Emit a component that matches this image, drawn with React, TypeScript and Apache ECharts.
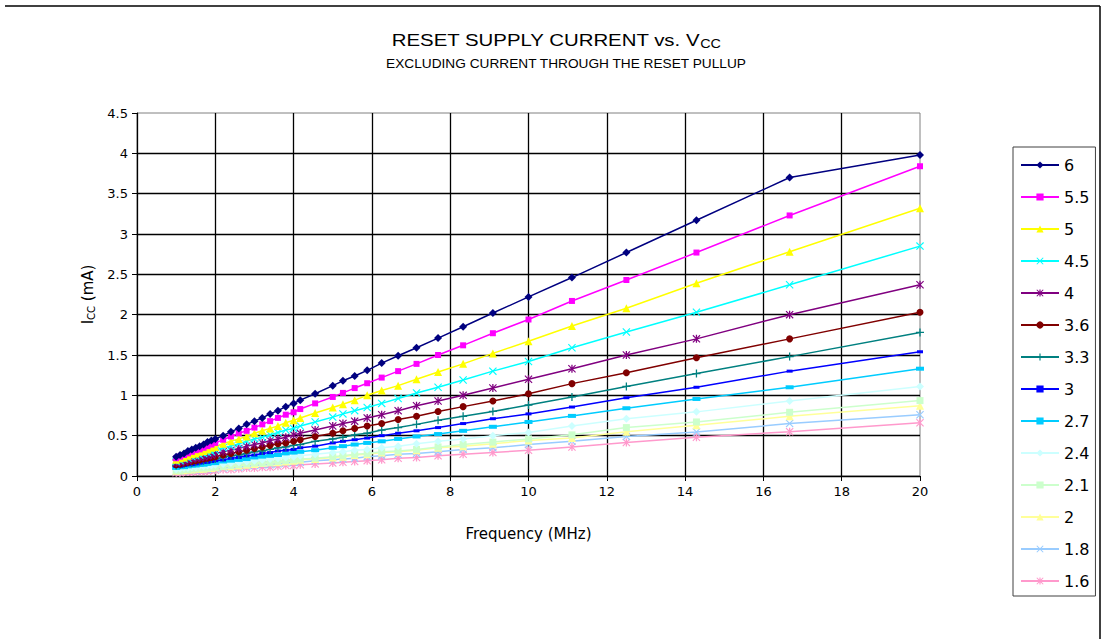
import React, { useEffect, useRef } from "react";
import * as echarts from "echarts";

const FREQ = [1.0, 1.1, 1.2, 1.3, 1.4, 1.5, 1.6, 1.7, 1.8, 1.9, 2.0, 2.2, 2.4, 2.6, 2.8, 3.0, 3.2, 3.4, 3.6, 3.8, 4.0, 4.17, 4.55, 5.0, 5.26, 5.56, 5.88, 6.25, 6.67, 7.14, 7.69, 8.33, 9.09, 10, 11.11, 12.5, 14.29, 16.67, 20];

const V6 = [0.24, 0.26, 0.28, 0.31, 0.33, 0.35, 0.37, 0.39, 0.42, 0.44, 0.46, 0.50, 0.55, 0.59, 0.64, 0.68, 0.72, 0.77, 0.81, 0.86, 0.90, 0.94, 1.02, 1.12, 1.18, 1.24, 1.31, 1.40, 1.49, 1.59, 1.71, 1.85, 2.02, 2.22, 2.46, 2.77, 3.17, 3.70, 3.98];
const V55 = [0.22, 0.24, 0.26, 0.28, 0.30, 0.32, 0.33, 0.35, 0.37, 0.39, 0.41, 0.45, 0.49, 0.53, 0.56, 0.60, 0.64, 0.68, 0.72, 0.76, 0.79, 0.83, 0.90, 0.98, 1.03, 1.09, 1.15, 1.22, 1.30, 1.39, 1.50, 1.62, 1.77, 1.94, 2.17, 2.43, 2.77, 3.23, 3.84];
const V5 = [0.20, 0.22, 0.23, 0.25, 0.27, 0.28, 0.30, 0.31, 0.33, 0.35, 0.36, 0.40, 0.43, 0.46, 0.49, 0.53, 0.56, 0.59, 0.62, 0.66, 0.69, 0.72, 0.78, 0.85, 0.89, 0.94, 1.00, 1.06, 1.12, 1.20, 1.29, 1.39, 1.52, 1.67, 1.86, 2.08, 2.39, 2.78, 3.32];
const V45 = [0.18, 0.19, 0.21, 0.22, 0.24, 0.25, 0.26, 0.28, 0.29, 0.30, 0.32, 0.35, 0.37, 0.40, 0.43, 0.46, 0.48, 0.51, 0.54, 0.57, 0.59, 0.62, 0.67, 0.73, 0.77, 0.81, 0.85, 0.90, 0.96, 1.03, 1.10, 1.19, 1.30, 1.42, 1.59, 1.785, 2.03, 2.37, 2.85];
const V4 = [0.16, 0.17, 0.18, 0.19, 0.21, 0.22, 0.23, 0.24, 0.25, 0.26, 0.28, 0.30, 0.32, 0.34, 0.37, 0.39, 0.41, 0.44, 0.46, 0.48, 0.51, 0.53, 0.57, 0.62, 0.65, 0.68, 0.72, 0.76, 0.81, 0.87, 0.93, 1.00, 1.09, 1.20, 1.33, 1.50, 1.70, 2.00, 2.37];
const V36 = [0.14, 0.15, 0.16, 0.17, 0.18, 0.19, 0.20, 0.21, 0.22, 0.23, 0.24, 0.26, 0.28, 0.30, 0.32, 0.34, 0.36, 0.38, 0.40, 0.41, 0.43, 0.45, 0.49, 0.53, 0.56, 0.59, 0.62, 0.65, 0.70, 0.74, 0.80, 0.86, 0.93, 1.02, 1.145, 1.28, 1.465, 1.70, 2.03];
const V33 = [0.13, 0.14, 0.15, 0.16, 0.16, 0.17, 0.18, 0.19, 0.20, 0.21, 0.21, 0.23, 0.25, 0.26, 0.28, 0.30, 0.31, 0.33, 0.35, 0.36, 0.38, 0.39, 0.43, 0.46, 0.48, 0.51, 0.53, 0.57, 0.60, 0.64, 0.69, 0.74, 0.80, 0.88, 0.98, 1.11, 1.27, 1.48, 1.78];
const V3 = [0.12, 0.12, 0.13, 0.14, 0.14, 0.15, 0.16, 0.17, 0.17, 0.18, 0.19, 0.20, 0.22, 0.23, 0.25, 0.26, 0.28, 0.29, 0.31, 0.32, 0.33, 0.35, 0.37, 0.41, 0.43, 0.45, 0.47, 0.50, 0.53, 0.56, 0.60, 0.65, 0.71, 0.77, 0.855, 0.97, 1.10, 1.30, 1.54];
const V27 = [0.10, 0.11, 0.11, 0.12, 0.13, 0.13, 0.14, 0.14, 0.15, 0.16, 0.16, 0.18, 0.19, 0.20, 0.21, 0.23, 0.24, 0.25, 0.26, 0.28, 0.29, 0.30, 0.32, 0.35, 0.37, 0.39, 0.41, 0.43, 0.46, 0.49, 0.52, 0.56, 0.61, 0.67, 0.745, 0.84, 0.955, 1.10, 1.33];
const V24 = [0.085, 0.09, 0.10, 0.10, 0.11, 0.11, 0.12, 0.12, 0.13, 0.13, 0.14, 0.15, 0.16, 0.17, 0.18, 0.19, 0.20, 0.21, 0.22, 0.23, 0.24, 0.25, 0.27, 0.29, 0.30, 0.32, 0.33, 0.35, 0.37, 0.40, 0.43, 0.46, 0.50, 0.54, 0.62, 0.71, 0.795, 0.93, 1.11];
const V21 = [0.07, 0.07, 0.08, 0.08, 0.09, 0.09, 0.10, 0.10, 0.10, 0.11, 0.11, 0.12, 0.13, 0.14, 0.15, 0.16, 0.16, 0.17, 0.18, 0.19, 0.20, 0.21, 0.22, 0.24, 0.25, 0.27, 0.28, 0.30, 0.31, 0.33, 0.36, 0.39, 0.42, 0.46, 0.51, 0.60, 0.67, 0.79, 0.935];
const V2 = [0.065, 0.07, 0.07, 0.08, 0.08, 0.09, 0.09, 0.09, 0.10, 0.10, 0.11, 0.12, 0.12, 0.13, 0.14, 0.15, 0.16, 0.17, 0.17, 0.18, 0.19, 0.20, 0.21, 0.23, 0.24, 0.26, 0.27, 0.29, 0.30, 0.32, 0.35, 0.37, 0.40, 0.44, 0.47, 0.55, 0.63, 0.74, 0.87];
const V18 = [0.055, 0.06, 0.06, 0.07, 0.07, 0.07, 0.08, 0.08, 0.08, 0.09, 0.09, 0.10, 0.11, 0.11, 0.12, 0.13, 0.14, 0.14, 0.15, 0.16, 0.17, 0.17, 0.19, 0.20, 0.21, 0.22, 0.24, 0.25, 0.27, 0.28, 0.30, 0.33, 0.35, 0.39, 0.43, 0.49, 0.545, 0.65, 0.76];
const V16 = [0.04, 0.04, 0.05, 0.05, 0.05, 0.06, 0.06, 0.06, 0.06, 0.07, 0.07, 0.08, 0.08, 0.09, 0.10, 0.10, 0.11, 0.11, 0.12, 0.13, 0.13, 0.14, 0.15, 0.16, 0.17, 0.18, 0.19, 0.20, 0.22, 0.23, 0.25, 0.27, 0.29, 0.32, 0.36, 0.415, 0.48, 0.55, 0.66];

const SERIES_NAMES = ["6", "5.5", "5", "4.5", "4", "3.6", "3.3", "3", "2.7", "2.4", "2.1", "2", "1.8", "1.6"];
const SERIES_VALUES = [V6, V55, V5, V45, V4, V36, V33, V3, V27, V24, V21, V2, V18, V16];
const COLORS = ["#000080", "#FF00FF", "#FFFF00", "#00FFFF", "#800080", "#800000", "#008080", "#0000FF", "#00CCFF", "#CCFFFF", "#CCFFCC", "#FFFF99", "#99CCFF", "#FF99CC"];

const X_SYM = "path://M0,1 L1,0 L5,4 L9,0 L10,1 L6,5 L10,9 L9,10 L5,6 L1,10 L0,9 L4,5 Z";
const STAR_SYM = "path://M0,1 L1,0 L5,4 L9,0 L10,1 L6,5 L10,9 L9,10 L5,6 L1,10 L0,9 L4,5 Z M4.2,0 L5.8,0 L5.8,10 L4.2,10 Z";
const PLUS_SYM = "path://M4.2,0 L5.8,0 L5.8,4.2 L10,4.2 L10,5.8 L5.8,5.8 L5.8,10 L4.2,10 L4.2,5.8 L0,5.8 L0,4.2 L4.2,4.2 Z";

const SYMBOLS = ["diamond", "rect", "triangle", X_SYM, STAR_SYM, "circle", PLUS_SYM, "rect", "rect", "diamond", "rect", "triangle", X_SYM, STAR_SYM];
const SIZES: any[] = [8, 6, 8, 8, 8, 7, 8, [6, 3], [8, 4], 8, 7, 8, 8, 8];

const FONT = "'Liberation Sans', Arial, sans-serif";
const WIDE = "'DejaVu Sans', sans-serif";

export default function App() {
  const ref = useRef<HTMLDivElement>(null);
  useEffect(() => {
    if (!ref.current) return;
    const chart = echarts.init(ref.current, undefined, { renderer: "svg" });
    const series = SERIES_NAMES.map((name, i) => ({
      name,
      type: "line",
      data: FREQ.map((f, j) => [f, SERIES_VALUES[i][j]]),
      symbol: SYMBOLS[i],
      symbolSize: SIZES[i],
      showAllSymbol: true,
      lineStyle: { color: COLORS[i], width: 1.5 },
      itemStyle: { color: COLORS[i] },
      z: 20 - i,
    }));
    chart.setOption({
      animation: false,
      textStyle: { fontFamily: FONT },
      graphic: [
        { type: "line", shape: { x1: 5, y1: 6, x2: 1100, y2: 6 }, style: { stroke: "#000", lineWidth: 1.5 } },
        { type: "line", shape: { x1: 1100, y1: 6, x2: 1100, y2: 639 }, style: { stroke: "#000", lineWidth: 1.5 } },
        {
          type: "text",
          x: 556,
          y: 40,
          scaleX: 1.2,
          style: {
            text: "{a|RESET SUPPLY CURRENT vs. V}{b|CC}",
            textAlign: "center",
            textVerticalAlign: "middle",
            rich: {
              a: { fontSize: 17, lineHeight: 20, fontFamily: FONT, fill: "#000" },
              b: { fontSize: 12, lineHeight: 12, padding: [7, 0, 0, 0], fontFamily: FONT, fill: "#000" },
            },
          },
        },
        {
          type: "text",
          x: 566,
          y: 64,
          scaleX: 1.14,
          style: {
            text: "EXCLUDING CURRENT THROUGH THE RESET PULLUP",
            textAlign: "center",
            textVerticalAlign: "middle",
            fontSize: 12,
            fontFamily: FONT,
            fill: "#000",
          },
        },
      ],
      legend: {
        orient: "vertical",
        left: 1013,
        top: 147,
        padding: [10, 6, 7, 7],
        itemWidth: 38,
        itemHeight: 9,
        itemGap: 16,
        borderColor: "#404040",
        borderWidth: 1,
        textStyle: { fontSize: 16, lineHeight: 16, color: "#000", fontFamily: WIDE },
      },
      grid: { left: 137, right: 185, top: 113, bottom: 163, show: true, borderColor: "#808080", borderWidth: 1 },
      xAxis: {
        type: "value",
        min: 0,
        max: 20,
        interval: 2,
        name: "Frequency (MHz)",
        nameLocation: "middle",
        nameGap: 50,
        nameTextStyle: { fontSize: 15, color: "#000", fontFamily: WIDE },
        axisLine: { lineStyle: { color: "#000", width: 1 } },
        axisTick: { show: true, length: 5, lineStyle: { color: "#000" } },
        axisLabel: { fontSize: 13, color: "#000", margin: 9, fontFamily: WIDE },
        splitLine: { show: true, showMaxLine: false, lineStyle: { color: "#000", width: 1.3 } },
      },
      yAxis: {
        type: "value",
        min: 0,
        max: 4.5,
        interval: 0.5,
        name: "{a|I}{b|CC}{a| (mA)}",
        nameLocation: "middle",
        nameGap: 30,
        nameTextStyle: {
          rich: {
            a: { fontSize: 15, lineHeight: 18, color: "#000", fontFamily: WIDE },
            b: { fontSize: 10, lineHeight: 11, padding: [7, 0, 0, 0], color: "#000", fontFamily: WIDE },
          },
        },
        axisLine: { show: true, lineStyle: { color: "#000", width: 1 } },
        axisTick: { show: true, length: 5, lineStyle: { color: "#000" } },
        axisLabel: { fontSize: 13, color: "#000", margin: 9, fontFamily: WIDE },
        splitLine: { show: true, showMaxLine: false, lineStyle: { color: "#000", width: 1.3 } },
      },
      series,
    });
    return () => chart.dispose();
  }, []);
  return <div ref={ref} style={{ position: "fixed", left: 0, top: 0, width: 1105, height: 639, background: "#fff" }} />;
}
